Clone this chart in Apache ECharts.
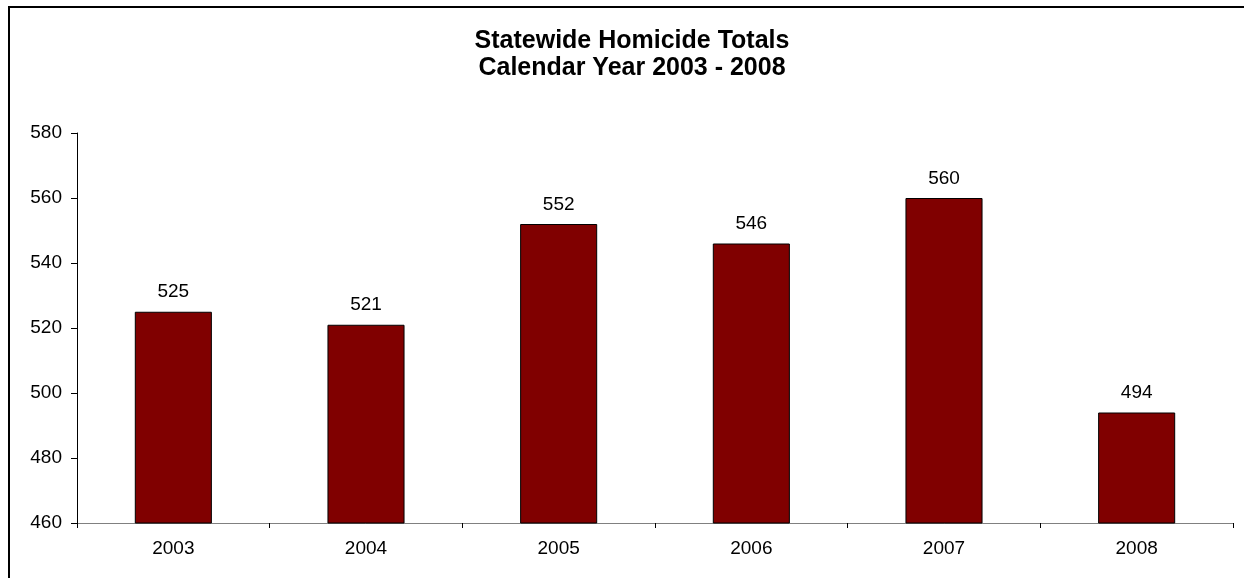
<!DOCTYPE html>
<html>
<head>
<meta charset="utf-8">
<script src="https://cdn.jsdelivr.net/npm/echarts@6/dist/echarts.min.js"></script>
<style>
  html, body { margin: 0; padding: 0; background: #fff; }
  #chart { width: 1244px; height: 578px; }
</style>
</head>
<body>
<div id="chart"></div>
<script>
var years = ['2003', '2004', '2005', '2006', '2007', '2008'];
var totals = [525, 521, 552, 546, 560, 494];

var chart = echarts.init(document.getElementById('chart'));

var font = 'Liberation Sans, Arial, sans-serif';

var option = {
  backgroundColor: '#fff',
  animation: false,
  title: {
    text: 'Statewide Homicide Totals\nCalendar Year 2003 - 2008',
    left: 627,
    top: 23,
    textAlign: 'center',
    textStyle: {
      fontFamily: font,
      fontSize: 25,
      fontWeight: 'bold',
      color: '#000',
      lineHeight: 27
    }
  },
  graphic: [
    {
      type: 'polyline',
      shape: { points: [[9, 600], [9, 7], [1260, 7]] },
      style: { stroke: '#000', lineWidth: 2, fill: null }
    }
  ],
  grid: {
    left: 77,
    right: 11,
    top: 133,
    bottom: 55
  },
  xAxis: {
    type: 'category',
    data: years,
    axisLine: { lineStyle: { color: '#808080', width: 1 } },
    axisTick: {
      show: true,
      alignWithLabel: false,
      length: 5,
      lineStyle: { color: '#000' }
    },
    axisLabel: {
      margin: 16,
      fontFamily: font,
      fontSize: 19,
      color: '#000'
    }
  },
  yAxis: {
    type: 'value',
    min: 460,
    max: 580,
    interval: 20,
    axisLine: { show: true, lineStyle: { color: '#000', width: 1 } },
    axisTick: { show: true, length: 6, lineStyle: { color: '#000' } },
    splitLine: { show: false },
    axisLabel: {
      margin: 15,
      fontFamily: font,
      fontSize: 19,
      color: '#000'
    }
  },
  series: [
    {
      name: 'Homicides',
      type: 'bar',
      data: totals,
      barWidth: '40%',
      itemStyle: {
        color: '#800000',
        borderColor: '#000',
        borderWidth: 1
      },
      label: {
        show: true,
        position: 'top',
        distance: 10,
        fontFamily: font,
        fontSize: 19,
        color: '#000'
      }
    }
  ]
};

chart.setOption(option);
</script>
</body>
</html>
